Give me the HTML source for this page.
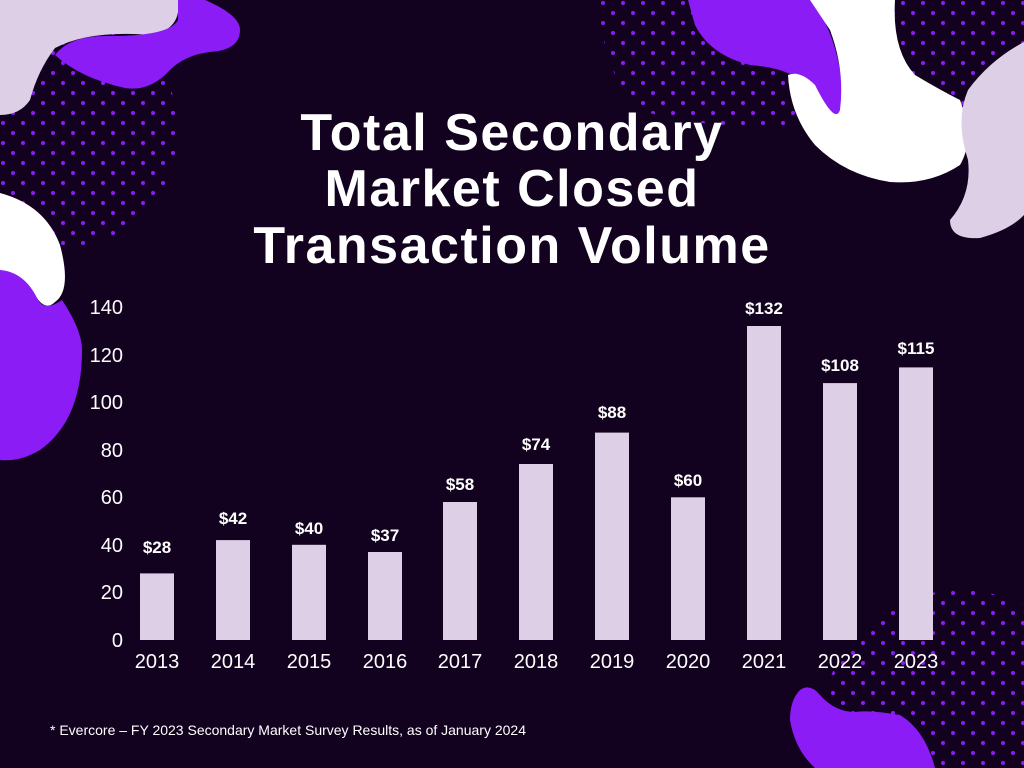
<!DOCTYPE html>
<html><head><meta charset="utf-8"><style>
html,body{margin:0;padding:0;background:#12021f;width:1024px;height:768px;overflow:hidden;}
svg{display:block}
</style></head><body>
<svg width="1024" height="768" viewBox="0 0 1024 768" xmlns="http://www.w3.org/2000/svg">
<defs>
<pattern id="dots" x="0" y="0" width="20" height="20" patternUnits="userSpaceOnUse">
<circle cx="3" cy="3" r="2" fill="#8b1cf5"/><circle cx="13" cy="13" r="2" fill="#8b1cf5"/>
</pattern>
</defs>
<rect width="1024" height="768" fill="#12021f"/>
<circle cx="60" cy="130" r="118" fill="url(#dots)"/>
<path d="M600 0 H1024 V150 L990 160 Q900 140 800 125 Q700 130 640 110 Q600 70 600 0Z" fill="url(#dots)"/>
<circle cx="960" cy="730" r="140" fill="url(#dots)"/>
<path d="M0 0 H178 Q182 30 150 35 Q90 30 55 48 Q38 70 30 100 Q20 115 0 115Z" fill="#dccfe6"/>
<path d="M178 0 H205 Q240 15 240 30 Q240 50 210 52 Q185 55 170 70 Q150 92 125 88 Q80 78 55 55 Q70 35 110 36 Q170 36 178 20Z" fill="#8b1cf5"/>
<path d="M0 193 Q45 205 60 245 Q72 290 55 302 Q45 312 35 295 Q25 275 0 270Z" fill="#ffffff"/>
<path d="M0 270 Q25 272 38 300 Q45 312 62 300 Q82 330 82 350 Q82 420 40 450 Q20 462 0 460Z" fill="#8b1cf5"/>
<path d="M688 0 H810 Q832 25 840 70 Q845 110 835 122 Q820 110 805 85 Q790 68 750 65 Q710 55 695 25Z" fill="#8b1cf5"/>
<path d="M810 0 H895 Q892 50 915 75 Q940 90 960 100 Q975 140 960 165 Q930 185 890 182 Q845 175 815 145 Q790 115 788 75 Q800 70 815 85 Q835 125 840 110 Q845 70 830 30Z" fill="#ffffff"/>
<path d="M1024 42 Q990 60 968 90 Q955 120 968 160 Q972 195 950 220 Q950 240 980 238 Q1010 230 1024 215Z" fill="#dccfe6"/>
<path d="M800 690 Q790 700 790 720 Q795 750 815 768 H935 Q925 730 900 715 Q870 710 855 712 Q835 712 820 695 Q810 683 800 690Z" fill="#8b1cf5"/>
<g font-family="Liberation Sans, sans-serif" font-weight="bold" fill="#fff" text-anchor="middle" font-size="52" letter-spacing="1.5">
<text x="512" y="150">Total Secondary</text>
<text x="512" y="206">Market Closed</text>
<text x="512" y="263">Transaction Volume</text>
</g>
<g font-family="Liberation Sans, sans-serif" fill="#fff" font-size="20" text-anchor="end">
<text x="123" y="647">0</text><text x="123" y="599">20</text><text x="123" y="552">40</text>
<text x="123" y="504">60</text><text x="123" y="457">80</text><text x="123" y="409">100</text>
<text x="123" y="362">120</text><text x="123" y="314">140</text>
</g>
<g fill="#dccfe6">
<rect x="140" y="573.4" width="34" height="66.6"/>
<rect x="216" y="540.1" width="34" height="99.9"/>
<rect x="292" y="544.8" width="34" height="95.2"/>
<rect x="368" y="552" width="34" height="88"/>
<rect x="443" y="502" width="34" height="138"/>
<rect x="519" y="464" width="34" height="176"/>
<rect x="595" y="432.6" width="34" height="207.4"/>
<rect x="671" y="497.3" width="34" height="142.7"/>
<rect x="747" y="326" width="34" height="314"/>
<rect x="823" y="383.1" width="34" height="256.9"/>
<rect x="899" y="367.4" width="34" height="272.6"/>
</g>
<g font-family="Liberation Sans, sans-serif" font-weight="bold" fill="#fff" font-size="17" text-anchor="middle">
<text x="157" y="553">$28</text><text x="233" y="524">$42</text><text x="309" y="534">$40</text>
<text x="385" y="541">$37</text><text x="460" y="490">$58</text><text x="536" y="450">$74</text>
<text x="612" y="418">$88</text><text x="688" y="486">$60</text><text x="764" y="314">$132</text>
<text x="840" y="371">$108</text><text x="916" y="354">$115</text>
</g>
<g font-family="Liberation Sans, sans-serif" fill="#fff" font-size="20" text-anchor="middle">
<text x="157" y="668">2013</text><text x="233" y="668">2014</text><text x="309" y="668">2015</text>
<text x="385" y="668">2016</text><text x="460" y="668">2017</text><text x="536" y="668">2018</text>
<text x="612" y="668">2019</text><text x="688" y="668">2020</text><text x="764" y="668">2021</text>
<text x="840" y="668">2022</text><text x="916" y="668">2023</text>
</g>
<text x="50" y="735" font-family="Liberation Sans, sans-serif" fill="#fff" font-size="14">* Evercore – FY 2023 Secondary Market Survey Results, as of January 2024</text>
</svg>
</body></html>
